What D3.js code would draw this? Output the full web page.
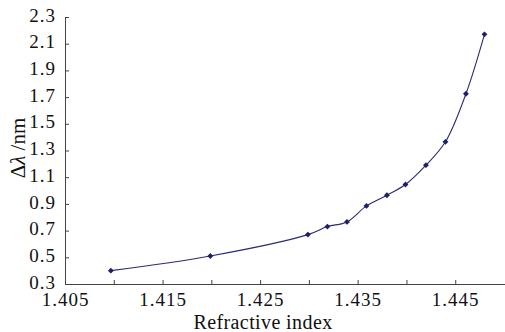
<!DOCTYPE html>
<html>
<head>
<meta charset="utf-8">
<script src="https://cdn.jsdelivr.net/npm/d3@7"></script>
<style>
  body { margin: 0; background: #fff; }
  text { font-family: "Liberation Serif", "DejaVu Serif", serif; fill: #111; }
</style>
</head>
<body>
<script>
// data
var refIndex = [1.4097, 1.4199, 1.4299, 1.4319, 1.4339, 1.4359, 1.4380, 1.4399, 1.4420, 1.4440, 1.4461, 1.4480];
var deltaLambda = [0.40, 0.51, 0.67, 0.73, 0.765, 0.885, 0.965, 1.045, 1.19, 1.365, 1.725, 2.17];
var xTicks = [1.405, 1.410, 1.415, 1.420, 1.425, 1.430, 1.435, 1.440, 1.445];
var yTicks = [0.3, 0.5, 0.7, 0.9, 1.1, 1.3, 1.5, 1.7, 1.9, 2.1, 2.3];

var svgWidth = 505;
var svgHeight = 332;
var plotLeft = 65, plotRight = 504, plotTop = 17, plotBottom = 284;

var data = refIndex.map(function(d, i) { return { x: d, y: deltaLambda[i] }; });

var svg = d3.select("body")
  .append("svg")
  .attr("width", svgWidth)
  .attr("height", svgHeight);

var xScale = d3.scaleLinear()
  .domain([1.405, 1.450])
  .range([plotLeft, plotRight]);

var yScale = d3.scaleLinear()
  .domain([0.3, 2.3])
  .range([plotBottom, plotTop]);

// x axis
var xAxis = svg.append("g")
  .attr("transform", "translate(0," + plotBottom + ")")
  .call(d3.axisBottom(xScale)
    .tickValues(xTicks)
    .tickSizeInner(-4)
    .tickSizeOuter(0)
    .tickPadding(9)
    .tickFormat(function(d, i) { return i % 2 === 0 ? d3.format(".3f")(d) : ""; }));
xAxis.select(".domain").attr("d", "M" + plotLeft + ",0.5H" + svgWidth).attr("stroke", "#444");
xAxis.selectAll(".tick line").attr("stroke", "#444");
xAxis.selectAll("text")
  .style("font-size", "19px")
  .style("letter-spacing", "1px")
  .attr("fill", "#111");

// y axis
var yAxis = svg.append("g")
  .attr("transform", "translate(" + plotLeft + ",0)")
  .call(d3.axisLeft(yScale)
    .tickValues(yTicks)
    .tickSizeInner(-4)
    .tickSizeOuter(0)
    .tickPadding(9)
    .tickFormat(d3.format(".1f")));
yAxis.select(".domain").attr("stroke", "#444");
yAxis.selectAll(".tick line").attr("stroke", "#444");
yAxis.selectAll("text")
  .style("font-size", "19px")
  .style("letter-spacing", "1px")
  .attr("dy", "0.22em")
  .attr("fill", "#111");

// curve
var line = d3.line()
  .x(function(d) { return xScale(d.x); })
  .y(function(d) { return yScale(d.y); })
  .curve(d3.curveCatmullRom.alpha(0.5));

svg.append("path")
  .datum(data)
  .attr("d", line)
  .attr("fill", "none")
  .attr("stroke", "#2b2b7a")
  .attr("stroke-width", 1.1);

// diamond markers
svg.selectAll(".pt")
  .data(data)
  .enter()
  .append("path")
  .attr("class", "pt")
  .attr("d", d3.symbol().type(d3.symbolDiamond2).size(22))
  .attr("transform", function(d) {
    return "translate(" + xScale(d.x) + "," + yScale(d.y) + ")";
  })
  .attr("fill", "#1e1e6a");

// axis titles
svg.append("text")
  .attr("x", 263)
  .attr("y", 329)
  .attr("text-anchor", "middle")
  .style("font-size", "20px")
  .style("letter-spacing", "0.4px")
  .text("Refractive index");

var yTitle = svg.append("text")
  .attr("transform", "translate(25,148) rotate(-90)")
  .attr("text-anchor", "middle")
  .style("font-size", "21px");
yTitle.append("tspan").text("Δ");
yTitle.append("tspan").style("font-style", "italic").text("λ");
yTitle.append("tspan").text(" /nm");
</script>
</body>
</html>
